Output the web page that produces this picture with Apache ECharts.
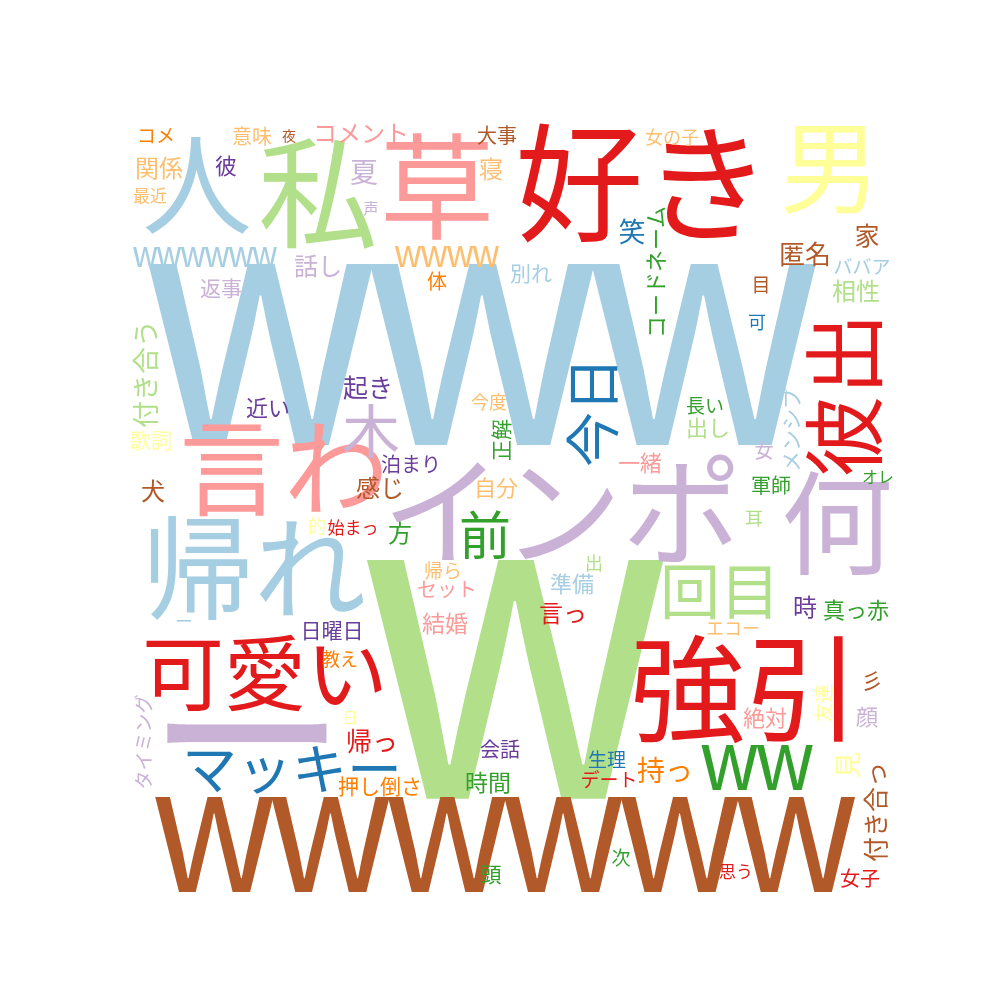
<!DOCTYPE html>
<html><head><meta charset="utf-8">
<script src="https://cdn.jsdelivr.net/npm/echarts@6/dist/echarts.min.js"></script>
<style>html,body{margin:0;padding:0;background:#fff}#c{width:1000px;height:1000px}</style>
</head><body><div id="c"></div>
<script>
// word cloud data: word, weight (drawn font size), centre position, angle, colour index
const words = ["www","w","wwwwww","好き","草","私","人","男","インポ","何","帰れ","言わ","強引","可愛い","彼出","ー","マッキー","今日","回目","前","木","ww","wwwwww","wwww","コメント","コードネーム","付き合う","付き合っ","タイミング","メンシプ","正解","友達","見","匿名","家","ババア","相性","目","可","笑","女の子","大事","寝","別れ","体","話し","返事","夏","声","意味","夜","コメ","関係","彼","最近","起き","近い","歌詞","犬","泊まり","感じ","今度","自分","始まっ","的","方","一緒","長い","出し","女","軍師","オレ","耳","出","時","真っ赤","エコー","準備","帰ら","セット","結婚","言っ","日曜日","教え","ー","日","帰っ","押し倒さ","会話","時間","生理","デート","持っ","絶対","彡","顔","思う","女子","頭","次"];
const weights = [333,440,175,128,115,120,110,100,120,112,112,105,115,82,82,200,55,55,60,52,58,83,36,39,24,22,27,25,19,21,21,19,27,26,25,19,24,19,18,27,18,20,24,21,20,24,21,28,15,20,14,19,24,22,17,25,22,21,24,20,24,18,22,17,18,24,22,19,22,19,20,16,18,18,24,22,18,22,19,20,23,24,21,18,18,15,26,21,20,23,19,19,28,22,22,22,17,20,21,19];
const posX = [482,515,505,643,437,318,197,830,562,837,254,284,745,265,848,247,292,595,720,485,371,757,205,447,361,657,147,877,145,792,502,825,849,805,867,862,856,761,757,632,672,497,491,531,437,318,221,364,371,252,289,156,159,226,150,368,268,151,153,411,380,489,496,353,317,400,640,705,708,764,771,878,754,594,805,856,733,572,443,447,445,563,332,340,184,350,372,380,500,488,607,609,665,765,872,867,736,860,491,621];
const posY = [355,680,845,190,192,199,190,172,517,529,574,472,694,677,395,744,771,412,594,538,434,768,257,256,134,272,374,812,742,430,440,703,765,255,237,268,292,286,323,233,138,136,170,274,282,267,289,174,209,137,136,137,169,167,196,389,409,441,492,465,489,403,489,528,527,534,464,407,429,452,486,478,519,564,608,611,629,585,572,590,624,614,631,660,622,718,742,787,750,783,761,781,772,719,682,718,872,879,875,859];
const angle = [0,0,0,0,0,0,0,0,0,0,0,0,0,0,90,0,0,90,0,0,0,0,0,0,0,90,90,90,90,90,90,90,90,0,0,0,0,0,0,0,0,0,0,0,0,0,0,0,0,0,0,0,0,0,0,0,0,0,0,0,0,0,0,0,0,0,0,0,0,0,0,0,0,0,0,0,0,0,0,0,0,0,0,0,0,0,0,0,0,0,0,0,0,0,0,0,0,0,0,0];
const colorIdx = [0,2,11,5,4,2,0,10,8,8,0,4,5,5,5,8,1,1,2,3,8,3,0,6,4,3,2,11,8,0,3,10,10,11,11,0,2,11,1,1,6,11,6,0,7,8,8,8,8,6,11,7,6,9,6,9,9,10,11,9,11,6,6,5,10,3,4,3,2,8,3,3,2,2,9,3,6,0,6,4,4,5,9,7,0,10,5,7,9,3,1,5,7,4,11,8,5,5,3,3];
const palette = ["#a6cee3","#1f78b4","#b2df8a","#33a02c","#fb9a99","#e31a1c","#fdbf6f","#ff7f00","#cab2d6","#6a3d9a","#ffff99","#b15928"];

const FONT = "'Noto Sans CJK JP', sans-serif";
const K_CJK = 0.05, K_LAT = 0.11, LAT_ADV = 0.665, LAT_SX = 0.9;

const data = words.map((w, i) => [posX[i], posY[i], i]);
const chart = echarts.init(document.getElementById('c'), null, {renderer: 'canvas'});
chart.setOption({
  backgroundColor: '#ffffff',
  animation: false,
  grid: {left: 0, right: 0, top: 0, bottom: 0},
  xAxis: {type: 'value', min: 0, max: 1000, show: false},
  yAxis: {type: 'value', min: 0, max: 1000, inverse: true, show: false},
  series: [{
    type: 'custom',
    silent: true,
    data: data,
    renderItem: function (params, api) {
      const i = api.value(2);
      const p = api.coord([api.value(0), api.value(1)]);
      const w = words[i];
      const fs = weights[i];
      const fill = palette[colorIdx[i]];
      const latin = /^[a-zA-Z]+$/.test(w);
      if (latin) {
        const n = w.length;
        const children = [];
        for (let k = 0; k < n; k++) {
          children.push({
            type: 'text',
            x: (k - (n - 1) / 2) * LAT_ADV * fs,
            y: -K_LAT * fs,
            scaleX: LAT_SX,
            style: {
              text: w[k], x: 0, y: 0,
              fontSize: fs, fontFamily: FONT, fill: fill,
              align: 'center', verticalAlign: 'middle'
            }
          });
        }
        return {type: 'group', x: p[0], y: p[1], children: children};
      }
      return {
        type: 'text',
        x: p[0], y: p[1],
        rotation: angle[i] * Math.PI / 180,
        style: {
          text: w, x: 0, y: -K_CJK * fs,
          fontSize: fs, fontFamily: FONT, fill: fill,
          align: 'center', verticalAlign: 'middle'
        }
      };
    }
  }]
});
</script>
</body></html>
